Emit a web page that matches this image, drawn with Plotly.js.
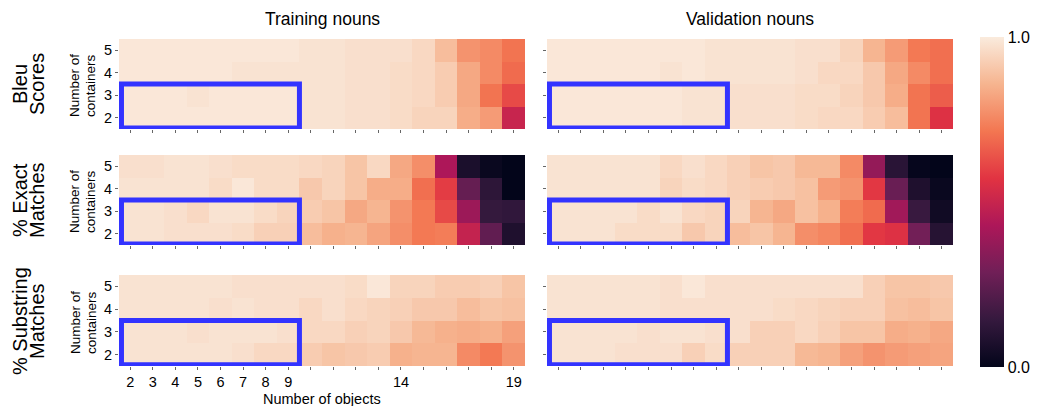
<!DOCTYPE html>
<html>
<head>
<meta charset="utf-8">
<script src="https://cdn.plot.ly/plotly-3.0.1.min.js"></script>
<style>html,body{margin:0;padding:0;background:#fff}#chart{width:1040px;height:406px}</style>
</head>
<body>
<div id="chart"></div>
<script>
// Number of objects (x) and number of containers (y)
const objects = [2,3,4,5,6,7,8,9,10,11,12,13,14,15,16,17,18,19];
const containers = [2,3,4,5];
const objectTickText = ['2','3','4','5','6','7','8','9','','','','','14','','','','','19'];
const containerTickText = ['2','3','4','5'];

const columnTitles = ['Training nouns', 'Validation nouns'];
const rowTitles = [['Bleu','Scores'], ['% Exact','Matches'], ['% Substring','Matches']];

// rows ordered containers = 2,3,4,5
const bleuTrain = [
  [0.99,0.99,0.99,0.99,0.99,0.99,0.99,0.99,0.98,0.98,0.97,0.97,0.96,0.94,0.94,0.84,0.80,0.50],
  [0.99,0.99,0.99,0.98,0.99,0.99,0.99,0.99,0.98,0.98,0.97,0.97,0.96,0.95,0.92,0.83,0.71,0.62],
  [0.99,0.99,0.99,0.99,0.99,0.98,0.98,0.98,0.98,0.98,0.97,0.97,0.96,0.95,0.92,0.83,0.76,0.69],
  [0.99,0.99,0.99,0.99,0.99,0.99,0.99,0.99,0.98,0.98,0.97,0.97,0.97,0.95,0.88,0.78,0.76,0.71]
];
const bleuVal = [
  [0.99,0.99,0.99,0.99,0.99,0.99,0.98,0.98,0.97,0.97,0.97,0.96,0.95,0.95,0.92,0.88,0.71,0.56],
  [0.99,0.99,0.99,0.99,0.99,0.99,0.98,0.98,0.97,0.97,0.97,0.96,0.96,0.94,0.91,0.84,0.71,0.66],
  [0.99,0.99,0.99,0.99,0.99,0.98,0.99,0.98,0.98,0.98,0.98,0.97,0.95,0.95,0.91,0.83,0.76,0.70],
  [0.99,0.99,0.99,0.99,0.99,0.99,0.99,0.98,0.98,0.98,0.98,0.97,0.97,0.94,0.86,0.80,0.72,0.70]
];
const exactTrain = [
  [0.98,0.98,0.97,0.97,0.97,0.96,0.93,0.93,0.88,0.85,0.86,0.82,0.77,0.72,0.73,0.49,0.25,0.08],
  [0.98,0.98,0.97,0.95,0.98,0.98,0.96,0.94,0.92,0.90,0.83,0.86,0.78,0.72,0.62,0.39,0.14,0.13],
  [0.98,0.98,0.98,0.98,0.96,0.99,0.96,0.96,0.91,0.94,0.90,0.84,0.84,0.70,0.59,0.26,0.12,0.00],
  [0.97,0.97,0.98,0.98,0.97,0.96,0.96,0.96,0.95,0.94,0.90,0.95,0.83,0.77,0.43,0.07,0.02,0.00]
];
const exactVal = [
  [0.98,0.98,0.98,0.96,0.96,0.96,0.91,0.94,0.88,0.90,0.86,0.77,0.75,0.70,0.58,0.56,0.29,0.10],
  [0.98,0.98,0.98,0.98,0.96,0.98,0.95,0.94,0.94,0.86,0.83,0.89,0.85,0.73,0.69,0.40,0.15,0.04],
  [0.98,0.98,0.98,0.98,0.98,0.94,0.96,0.95,0.93,0.92,0.91,0.89,0.80,0.78,0.58,0.27,0.08,0.02],
  [0.98,0.98,0.98,0.98,0.98,0.95,0.97,0.95,0.93,0.90,0.91,0.87,0.87,0.76,0.37,0.11,0.01,0.00]
];
const substringTrain = [
  [0.98,0.98,0.98,0.98,0.98,0.97,0.95,0.95,0.92,0.90,0.91,0.92,0.85,0.86,0.86,0.76,0.72,0.78],
  [0.98,0.98,0.98,0.97,0.98,0.98,0.98,0.97,0.95,0.95,0.93,0.94,0.91,0.87,0.85,0.84,0.85,0.81],
  [0.98,0.98,0.98,0.98,0.97,0.98,0.97,0.97,0.95,0.97,0.95,0.94,0.93,0.91,0.91,0.88,0.90,0.89],
  [0.98,0.98,0.98,0.98,0.98,0.97,0.97,0.97,0.97,0.97,0.96,0.99,0.94,0.94,0.92,0.92,0.93,0.90]
];
const substringVal = [
  [0.98,0.98,0.98,0.97,0.97,0.97,0.93,0.96,0.93,0.93,0.93,0.87,0.86,0.81,0.78,0.80,0.81,0.82],
  [0.98,0.98,0.98,0.98,0.97,0.98,0.98,0.97,0.97,0.93,0.93,0.95,0.93,0.90,0.90,0.84,0.85,0.83],
  [0.98,0.98,0.98,0.98,0.98,0.97,0.97,0.97,0.97,0.97,0.96,0.95,0.94,0.93,0.93,0.89,0.88,0.90],
  [0.98,0.98,0.98,0.98,0.98,0.97,0.99,0.97,0.97,0.97,0.97,0.97,0.97,0.97,0.93,0.90,0.90,0.91]
];
// highlighted region (objects 2-9, containers 2-3)
const highlightObjects = [2, 9];
const highlightContainers = [2, 3];

const rocket = [
  [0.0,'#03051a'],[0.143,'#35193e'],[0.286,'#701f57'],[0.429,'#ad1759'],
  [0.571,'#e13342'],[0.714,'#f37651'],[0.857,'#f6b48f'],[1.0,'#faebdd']
];

const W = 1040, H = 406;
const px = v => v / W;
const py = v => 1 - v / H;
const FONT = 'Liberation Sans, Arial, Helvetica, sans-serif';

const panels = [bleuTrain, bleuVal, exactTrain, exactVal, substringTrain, substringVal];
const colDom = [[px(119), px(525)], [px(547), px(953)]];
const rowDom = [[py(129), py(39)], [py(245), py(155)], [py(366), py(275)]];

const data = [];
const layout = {
  width: W, height: H,
  margin: {l:0, r:0, t:0, b:0},
  paper_bgcolor: '#fff', plot_bgcolor: '#fff',
  font: {family: FONT, color: '#000'},
  showlegend: false,
  coloraxis: {
    cmin: 0, cmax: 1, colorscale: rocket,
    colorbar: {
      x: px(980), xanchor: 'left', xpad: 0, ypad: 0,
      y: py(202), yanchor: 'middle', len: 330 / H, lenmode: 'fraction',
      thickness: 24, thicknessmode: 'pixels', outlinewidth: 0,
      tickvals: [0, 1], ticktext: ['0.0', '1.0'], ticks: '',
      tickfont: {size: 16, family: FONT, color: '#000'}
    }
  },
  shapes: [],
  annotations: []
};

panels.forEach((z, i) => {
  const n = i + 1;
  const suffix = n === 1 ? '' : String(n);
  const r = Math.floor(i / 2), c = i % 2;
  data.push({
    type: 'heatmap', x: objects, y: containers, z: z,
    coloraxis: 'coloraxis', xaxis: 'x' + suffix, yaxis: 'y' + suffix,
    hoverongaps: false
  });
  layout['xaxis' + suffix] = {
    domain: colDom[c], anchor: 'y' + suffix, range: [1.5, 19.5],
    showgrid: false, zeroline: false, showline: false,
    tickmode: 'array', tickvals: objects, ticktext: objectTickText,
    ticks: 'outside', ticklen: 3, tickwidth: 1, tickcolor: '#666',
    showticklabels: (r === 2 && c === 0),
    tickfont: {size: 14.5, family: FONT, color: '#000'}, fixedrange: true
  };
  layout['yaxis' + suffix] = {
    domain: rowDom[r], anchor: 'x' + suffix, range: [1.5, 5.5],
    showgrid: false, zeroline: false, showline: false,
    tickmode: 'array', tickvals: containers, ticktext: containerTickText,
    ticks: 'outside', ticklen: 3, tickwidth: 1, tickcolor: '#666',
    showticklabels: c === 0,
    tickfont: {size: 14.5, family: FONT, color: '#000'}, fixedrange: true
  };
  layout.shapes.push({
    type: 'rect', xref: 'x' + suffix, yref: 'y' + suffix, layer: 'above',
    x0: highlightObjects[0] - 0.39, x1: highlightObjects[1] + 0.5,
    y0: highlightContainers[0] - 0.45, y1: highlightContainers[1] + 0.5,
    line: {color: 'rgb(51,51,255)', width: 5}, fillcolor: 'rgba(0,0,0,0)'
  });
});

// column titles
[322, 750].forEach((cx, c) => {
  layout.annotations.push({
    xref: 'paper', yref: 'paper', x: px(cx), y: py(19),
    xanchor: 'center', yanchor: 'middle', showarrow: false,
    text: columnTitles[c], font: {size: 17.5, family: FONT, color: '#000'}
  });
});

// row titles and y axis titles
const rowCenters = [84, 200, 321];
rowTitles.forEach((lines, r) => {
  layout.annotations.push({
    xref: 'paper', yref: 'paper', x: px(20), y: py(rowCenters[r]),
    xanchor: 'center', yanchor: 'middle', textangle: -90, showarrow: false,
    text: lines[0], font: {size: 20, family: FONT, color: '#000'}
  });
  layout.annotations.push({
    xref: 'paper', yref: 'paper', x: px(37), y: py(rowCenters[r]),
    xanchor: 'center', yanchor: 'middle', textangle: -90, showarrow: false,
    text: lines[1], font: {size: 20, family: FONT, color: '#000'}
  });
  layout.annotations.push({
    xref: 'paper', yref: 'paper', x: px(75), y: py(rowCenters[r] + 2),
    xanchor: 'center', yanchor: 'middle', textangle: -90, showarrow: false,
    text: 'Number of', font: {size: 13.5, family: FONT, color: '#000'}
  });
  layout.annotations.push({
    xref: 'paper', yref: 'paper', x: px(91), y: py(rowCenters[r] + 2),
    xanchor: 'center', yanchor: 'middle', textangle: -90, showarrow: false,
    text: 'containers', font: {size: 13.5, family: FONT, color: '#000'}
  });
});

// x axis title
layout.annotations.push({
  xref: 'paper', yref: 'paper', x: px(322), y: py(399),
  xanchor: 'center', yanchor: 'middle', showarrow: false,
  text: 'Number of objects', font: {size: 14.5, family: FONT, color: '#000'}
});

Plotly.newPlot('chart', data, layout, {displayModeBar: false, staticPlot: true});
</script>
</body>
</html>
